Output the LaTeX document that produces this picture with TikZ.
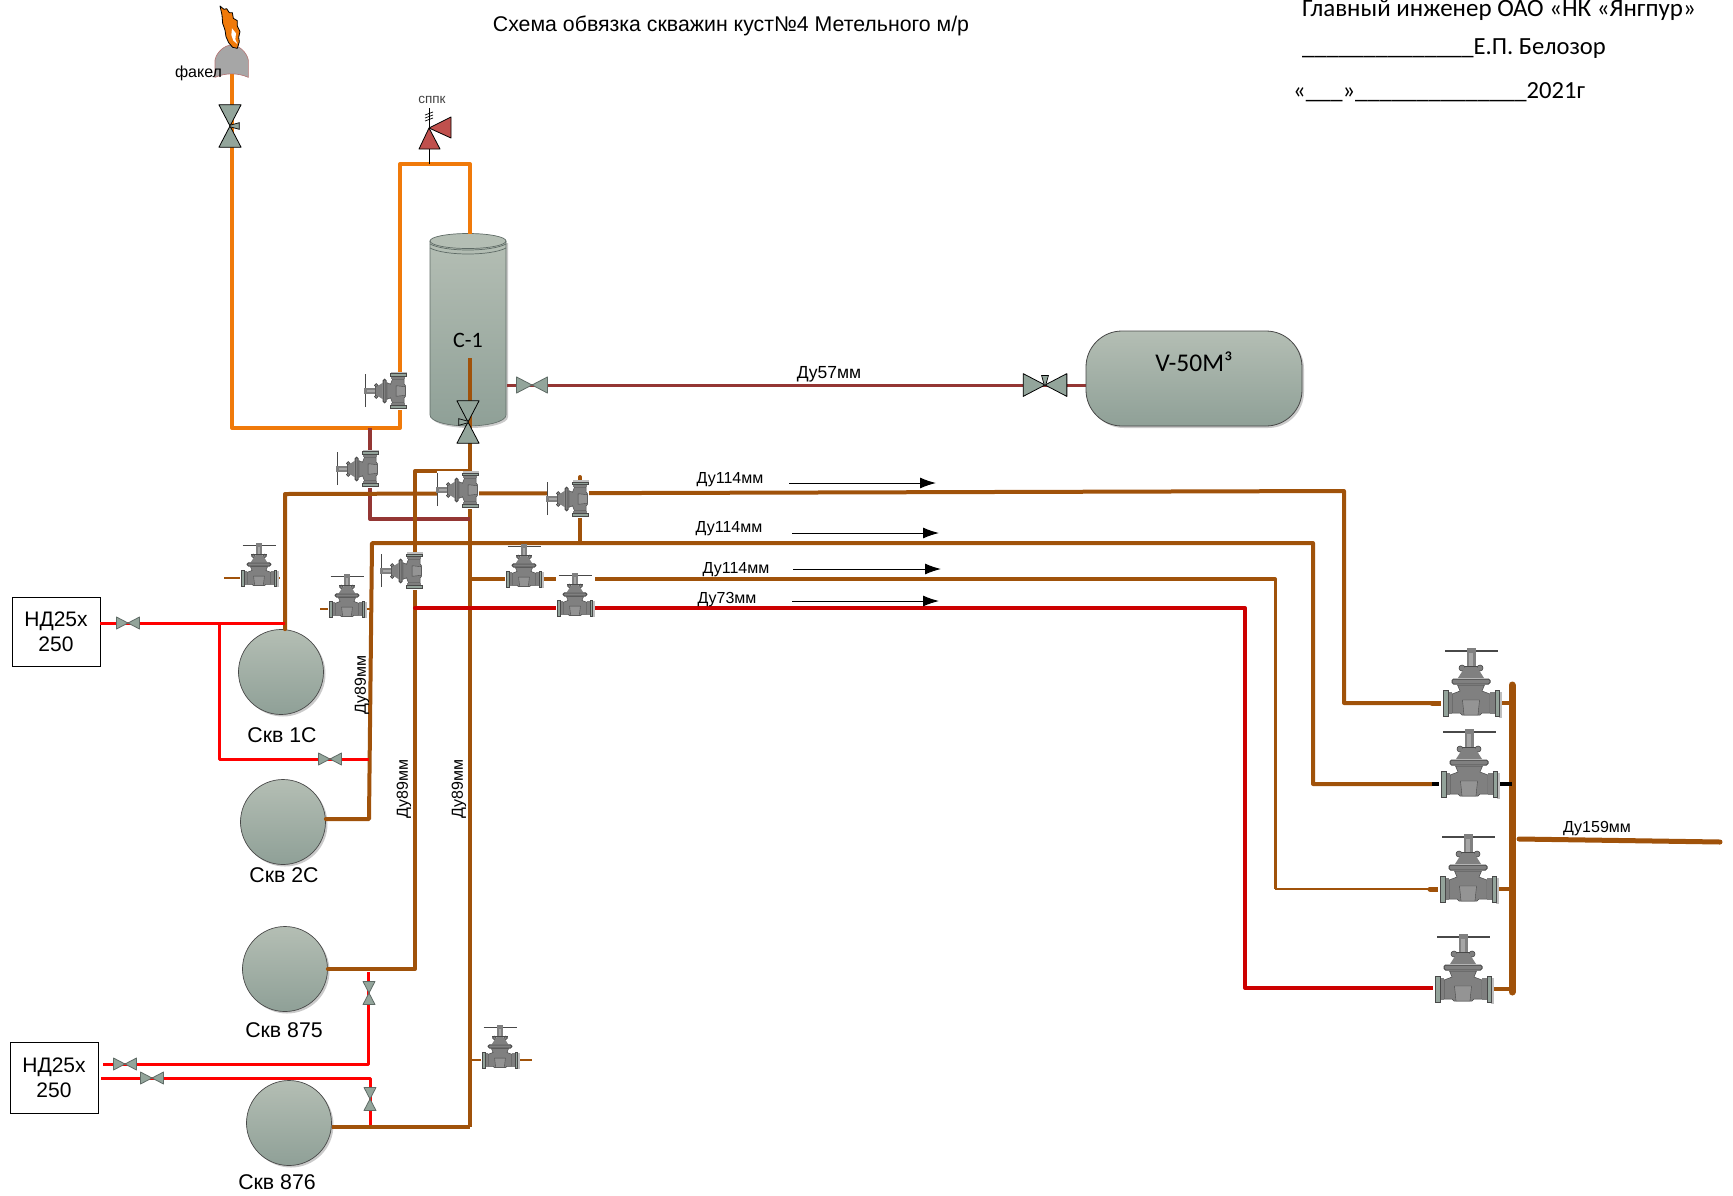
\documentclass[tikz,border=0pt]{standalone}
\usepackage{fontspec}
\setmainfont{Liberation Sans}
\newfontfamily\calibri{Carlito}
\usetikzlibrary{arrows.meta,shadows}

\definecolor{pipeBrown}{HTML}{A0520A}
\definecolor{pipeOrange}{HTML}{F07A0A}
\definecolor{pipeRed}{HTML}{FF0000}
\definecolor{pipeDeep}{HTML}{CC0000}
\definecolor{pipeOil}{HTML}{943634}
\definecolor{reliefRed}{HTML}{C0504D}
\definecolor{vesselTop}{HTML}{B4BEB4}
\definecolor{vesselLow}{HTML}{8FA097}
\definecolor{bowFill}{HTML}{93A59B}
\definecolor{bowEdge}{HTML}{5F6B66}
\definecolor{bodyGrey}{HTML}{808080}
\definecolor{darkGrey}{HTML}{484848}
\definecolor{flangeGreen}{HTML}{93A39A}

\tikzset{
	brownline/.style={pipeBrown,line width=4pt,line join=round,line cap=round},
	thinbrown/.style={pipeBrown,line width=2pt,line join=round},
	orangeline/.style={pipeOrange,line width=4pt,line join=round},
	redline/.style={pipeRed,line width=3pt,line join=round},
	deepline/.style={pipeDeep,line width=4pt,line join=round},
	oilline/.style={pipeOil,line width=3pt,line join=round},
	flowarrow/.style={black,line width=1pt,-{Latex[length=16pt,width=11pt]}},
	vesselshade/.style={top color=vesselTop,bottom color=vesselLow,draw=darkGrey,line width=.7pt,
		drop shadow={shadow xshift=2pt,shadow yshift=-2pt,fill=black!35,opacity=.6}},
	wellnode/.style={circle,vesselshade,minimum size=85pt,inner sep=0pt},
	boxnode/.style={draw=black,line width=.8pt,fill=white,align=center,inner sep=0pt,font=\fontsize{21}{25}\selectfont},
	welltext/.style={font=\fontsize{21.3}{23}\selectfont},
	dutext/.style={font=\fontsize{16}{18}\selectfont},
	signtext/.style={anchor=west,inner sep=0pt,font=\calibri\fontsize{24.6}{26}\selectfont},
	gatevalve/.pic={
		\fill[white] (-30,-53) rectangle (31,15);
		\fill[black!25] (28,-11) rectangle (31,15);
		\draw[darkGrey,line width=1.1pt] (-26,-52) -- (27,-52);
		\fill[bodyGrey] (-4.5,-55) rectangle (4.5,-35);
		\fill[black!35] (-2,-50) rectangle (2,-36);
		\draw[darkGrey,line width=.7pt] (-12,-37) -- (12,-37);
		\draw[darkGrey,fill=bodyGrey,line width=.6pt] (-9,-35) circle (3pt);
		\draw[darkGrey,fill=bodyGrey,line width=.6pt] (9,-35) circle (3pt);
		\fill[bodyGrey] (-6,-36) -- (6,-36) -- (13,-25) -- (-13,-25) -- cycle;
		\draw[darkGrey,line width=1pt,fill=bodyGrey,rounded corners=1.5pt] (-19,-24) rectangle (19,-19);
		\draw[darkGrey,fill=bodyGrey,line width=.5pt] (-13.5,-18) -- (13.5,-18) -- (11,-12) -- (19,-9) -- (19,10) -- (11,10) -- (9,12) -- (-9,12) -- (-11,10) -- (-19,10) -- (-19,-9) -- (-11,-12) -- cycle;
		\draw[darkGrey,line width=.4pt,fill=black!42] (-8.5,-3) -- (8.5,-3) -- (7,12) -- (-7,12) -- cycle;
		\fill[darkGrey!70] (-23,-11) rectangle (-19,11);
		\fill[darkGrey!70] (19,-11) rectangle (24,11);
		\draw[darkGrey,fill=flangeGreen,line width=.3pt] (-28,-13) rectangle (-23,13);
		\draw[darkGrey,fill=flangeGreen,line width=.3pt] (24,-13) rectangle (28,13);
	},
	bowvalve/.pic={
		\draw[draw=#1,fill=bowFill,line width=.8pt,line join=round] (-11.5,-6) -- (0,0) -- (-11.5,6) -- cycle;
		\draw[draw=#1,fill=bowFill,line width=.8pt,line join=round] (11.5,-6) -- (0,0) -- (11.5,6) -- cycle;
	},
	leverpic/.pic={
		\draw[black,fill=bowFill,line width=.7pt] (-.4,0) -- (-1.8,-5) -- (1.8,-5) -- (.4,0) -- cycle;
	}
}

\begin{document}
\begin{tikzpicture}[x=1pt,y=-1pt]

	\useasboundingbox (0,0) rectangle (1733,1195);

	\coordinate (flareFoot) at (232,73);
	\coordinate (flareLow) at (232,428);
	\coordinate (ventLow) at (400,428);
	\coordinate (ventTop) at (400,164);
	\coordinate (sepTop) at (470,234);
	\coordinate (sppkFoot) at (429,164);
	\coordinate (sppkTip) at (429,108);

	\coordinate (sepStub) at (470,358);
	\coordinate (sepValve) at (470,422);
	\coordinate (mainLow) at (470,1127);
	\coordinate (jumpTop) at (415,471);
	\coordinate (jumpLow) at (415,969);

	\coordinate (oilTop) at (370,428);
	\coordinate (oilLow) at (370,519);
	\coordinate (oilEnd) at (470,519);

	\coordinate (runA) at (285,494);
	\coordinate (runAEnd) at (1344,491);
	\coordinate (runALow) at (1344,703);
	\coordinate (runAStub) at (1432,703);
	\coordinate (runATip) at (1445,703);
	\coordinate (runB) at (369,819);
	\coordinate (runBTop) at (372,543);
	\coordinate (runBEnd) at (1313,543);
	\coordinate (runBLow) at (1313,784);
	\coordinate (runBStub) at (1432,784);
	\coordinate (runBTip) at (1442,784);
	\coordinate (tieTop) at (580,477);
	\coordinate (tieLow) at (580,543);
	\coordinate (runC) at (470,579);
	\coordinate (runCEnd) at (1275,579);
	\coordinate (runCLow) at (1275,889);
	\coordinate (runCStub) at (1430,889);
	\coordinate (runCTip) at (1442,889);
	\coordinate (runD) at (415,608);
	\coordinate (runDEnd) at (1245,608);
	\coordinate (runDLow) at (1245,988);
	\coordinate (runDStub) at (1433,988);

	\coordinate (headTop) at (1512,685);
	\coordinate (headLow) at (1512,992);
	\coordinate (exitA) at (1519,839);
	\coordinate (exitB) at (1720,842);
	\coordinate (gateR1out) at (1498,703);
	\coordinate (gateR2out) at (1498,784);
	\coordinate (gateR3out) at (1492,889);
	\coordinate (gateR4out) at (1490,989);

	\node[wellnode] (well1C) at (281,672) {};
	\node[wellnode] (well2C) at (283,822) {};
	\node[wellnode] (well875) at (285,969) {};
	\node[wellnode] (well876) at (289,1123) {};
	\node[boxnode,minimum width=88pt,minimum height=69pt] (boxTop) at (56,632) {НД25х\\250};
	\node[boxnode,minimum width=88pt,minimum height=71pt] (boxLow) at (54,1078) {НД25х\\250};

	\coordinate (redTopEnd) at (285,623);
	\coordinate (redSplit) at (219,623);
	\coordinate (redSplitLow) at (219,759);
	\coordinate (redSplitEnd) at (369,759);
	\coordinate (redA) at (103,1064);
	\coordinate (redABend) at (368,1064);
	\coordinate (redAEnd) at (368,972);
	\coordinate (redB) at (101,1078);
	\coordinate (redBBend) at (370,1078);
	\coordinate (redBEnd) at (370,1125);

	\coordinate (stubF0a) at (224,578);
	\coordinate (stubF0b) at (280,578);
	\coordinate (stubF1a) at (320,609);
	\coordinate (stubF1b) at (371,609);
	\coordinate (stubF4) at (532,1060);
	\coordinate (stubF4b) at (470,1060);
	\coordinate (oilRight) at (507,385);
	\coordinate (oilTank) at (1086,385);

	\path[vesselshade,draw=none] (430,241) -- (430,415) .. controls (430,422) and (450,426) .. (468,426) .. controls (486,426) and (506,422) .. (506,415) -- (506,241) -- cycle;
	\draw[bowEdge,line width=.6pt] (430,241) -- (430,415) .. controls (430,422) and (450,426) .. (468,426) .. controls (486,426) and (506,422) .. (506,415) -- (506,241);
	\draw[bowEdge,line width=.7pt,fill=vesselTop] (468,241) ellipse (38pt and 7.5pt);
	\draw[bowEdge,line width=.7pt] (430,244) .. controls (445,252) and (491,252) .. (506,244);
	\draw[bowEdge,line width=.7pt] (430,248) .. controls (445,256) and (491,256) .. (506,248);

	\draw[orangeline] (flareFoot) -- (flareLow) -- (ventLow) -- (ventTop) -- (ventTop -| sepTop) -- (sepTop);
	\draw[black,line width=1pt] (sppkFoot) -- (sppkTip);
	\draw[brownline,line cap=butt] (sepStub) -- (mainLow);
	\draw[oilline,line width=4pt] (oilTop) -- (oilLow) -- (oilEnd);
	\draw[brownline] (jumpTop -| sepStub) -- (jumpTop) -- (jumpLow) -- (well875.east);
	\draw[brownline] (well1C.north -| runA) -- (runA) -- (runAEnd) -- (runALow) -- (runAStub);
	\draw[brownline,line width=5pt] (runAStub) -- (runATip);
	\draw[brownline] (well2C.east |- runB) -- (runB) -- (runBTop) -- (runBEnd) -- (runBLow) -- (runBStub);
	\draw[black,line width=4pt] (runBStub) -- (runBTip);
	\draw[brownline] (tieTop) -- (tieLow);
	\draw[brownline] (runC) -- (runCEnd);
	\draw[thinbrown,line width=3pt] (runCEnd) -- (runCLow);
	\draw[thinbrown] (runCLow) -- (runCStub);
	\draw[brownline,line width=5pt] (runCStub) -- (runCTip);
	\draw[deepline,line cap=round] (runD) -- (runDEnd) -- (runDLow) -- (runDStub);
	\draw[brownline,line cap=butt] (well876.east |- mainLow) -- (mainLow);
	\draw[thinbrown,line width=2.5pt] (stubF0a) -- (stubF0b);
	\draw[thinbrown,line width=2.5pt] (stubF1a) -- (stubF1b);
	\draw[thinbrown,line width=2.5pt] (stubF4b) -- (stubF4);

	\draw[redline] (boxTop.east |- redTopEnd) -- (redTopEnd);
	\draw[redline] (redSplit) -- (redSplitLow) -- (redSplitEnd);
	\draw[redline] (redA) -- (redABend) -- (redAEnd);
	\draw[redline] (redB) -- (redBBend) -- (redBEnd);
	\draw[oilline] (oilRight) -- (oilTank);

	\node[inner sep=0pt] (sepLabel) at (468,340) {\calibri\fontsize{22}{24}\selectfont С-1};
	\draw[brownline,line cap=butt] (sepStub) -- (sepValve);

	\path[draw=darkGrey,line width=.8pt,rounded corners=36pt,top color=vesselTop,bottom color=vesselLow,drop shadow={shadow xshift=2pt,shadow yshift=-2pt,fill=black!35,opacity=.6}] (1086,331) rectangle (1302,426);
	\node (tankText) at (1194,362) {\calibri\fontsize{25.5}{27}\selectfont V-50М³};

	\draw[brownline,line width=7pt] (headTop) -- (headLow);
	\draw[brownline,line width=5pt] (exitA) -- (exitB);
	\draw[brownline,line cap=butt] (gateR1out) -- (headTop |- gateR1out);
	\draw[black,line width=4pt] (gateR2out) -- (headTop |- gateR2out);
	\draw[brownline,line cap=butt] (gateR3out) -- (headTop |- gateR3out);
	\draw[brownline,line cap=butt] (gateR4out) -- (headTop |- gateR4out);

	\pic[rotate=90,scale=.62] (gateOrange) at (398,391) {gatevalve};
	\pic[rotate=90,scale=.62] (gateOil) at (370,469) {gatevalve};
	\pic[rotate=90,scale=.62] (gateMid) at (470,490) {gatevalve};
	\pic[rotate=90,scale=.62] (gateRun) at (580,499) {gatevalve};
	\pic[rotate=90,scale=.62] (gateJump) at (414,571) {gatevalve};

	\pic[scale=.63] (gateF0) at (259,578) {gatevalve};
	\pic[scale=.63] (gateF1) at (347,609) {gatevalve};
	\pic[scale=.63] (gateF2) at (524,579) {gatevalve};
	\pic[scale=.63] (gateF3) at (575,608) {gatevalve};
	\pic[scale=.63] (gateF4) at (500,1060) {gatevalve};

	\pic (gateR1) at (1471,703) {gatevalve};
	\pic (gateR2) at (1469,784) {gatevalve};
	\pic (gateR3) at (1468,889) {gatevalve};
	\pic (gateR4) at (1463,989) {gatevalve};

	\pic (bowTop) at (128,623) {bowvalve=bowEdge};
	\pic (bowSplit) at (330,759) {bowvalve=bowEdge};
	\pic (bowA) at (125,1064) {bowvalve=bowEdge};
	\pic (bowB) at (152,1078) {bowvalve=bowEdge};
	\pic[rotate=90] (bowAUp) at (369,993) {bowvalve=bowEdge};
	\pic[rotate=90] (bowBUp) at (370,1099) {bowvalve=bowEdge};
	\pic[scale=1.35] (bowDu) at (532,385) {bowvalve=bowEdge};
	\pic[rotate=90,scale=1.85] (bowFlare) at (230,126) {bowvalve=black};
	\pic[rotate=-90,scale=1.85] (leverFlare) at (230,126) {leverpic};
	\pic[rotate=90,scale=1.85] (bowSep) at (468,422) {bowvalve=black};
	\pic[rotate=90,scale=1.85] (leverSep) at (468,422) {leverpic};
	\pic[scale=1.9] (bowTank) at (1045,385) {bowvalve=black};
	\pic[scale=1.9] (leverTank) at (1045,385) {leverpic};

	\draw[draw=black,fill=reliefRed,line width=.8pt,line join=round] (429,128) -- (440,149) -- (419,149) -- cycle;
	\draw[draw=black,fill=reliefRed,line width=.8pt,line join=round] (429,128) -- (451,117) -- (451,138) -- cycle;
	\draw[black,line width=.7pt] (425,115) -- (433,112);
	\draw[black,line width=.7pt] (425,118) -- (433,115);
	\draw[black,line width=.7pt] (425,121) -- (433,118);

	\begin{scope}[xshift=150pt,scale=1/3]
		\draw[draw=pipeOil!70,fill=black!35,line width=.6pt] (195,180) .. controls (200,155) and (225,135) .. (245,135) .. controls (265,135) and (290,155) .. (295,180) -- (295,232) .. controls (262,218) and (228,218) .. (195,232) -- cycle;
		\draw[black,fill=pipeOrange,line width=.8pt,line join=round] (210,18) -- (222,28) -- (230,26) -- (238,38) -- (247,38) -- (250,55) -- (262,62) -- (262,78) -- (270,95) -- (266,112) -- (268,125) -- (262,145) -- (248,142) -- (236,128) -- (228,110) -- (225,90) -- (218,70) -- (216,45) -- cycle;
		\fill[white] (246,85) -- (258,100) -- (256,118) -- (262,132) -- (250,122) -- (244,105) -- cycle;
	\end{scope}

	\node[welltext] (label1C) at (282,735) {Скв 1С};
	\node[welltext] (label2C) at (284,875) {Скв 2С};
	\node[welltext] (label875) at (284,1030) {Скв 875};
	\node[welltext] (label876) at (277,1182) {Скв 876};

	\node[font=\fontsize{16}{18}\selectfont] (flareText) at (198.5,73) {факел};
	\node[font=\fontsize{13.5}{15}\selectfont,black!75] (sppkText) at (432,100) {сппк};

	\node[font=\fontsize{17.5}{19}\selectfont] (du57) at (829,374) {Ду57мм};
	\node[dutext] (du114a) at (730,480) {Ду114мм};
	\node[dutext] (du114b) at (729,529) {Ду114мм};
	\node[dutext] (du114c) at (736,570) {Ду114мм};
	\node[dutext] (du73) at (727,600) {Ду73мм};
	\node[dutext] (du159) at (1597,829) {Ду159мм};
	\node[dutext,rotate=90] (du89a) at (362,685) {Ду89мм};
	\node[dutext,rotate=90] (du89b) at (404,789) {Ду89мм};
	\node[dutext,rotate=90] (du89c) at (459,789) {Ду89мм};

	\coordinate (arrowAa) at (789,483);
	\coordinate (arrowAb) at (936,483);
	\coordinate (arrowBa) at (792,533);
	\coordinate (arrowBb) at (939,533);
	\coordinate (arrowCa) at (793,569);
	\coordinate (arrowCb) at (941,569);
	\coordinate (arrowDa) at (792,601);
	\coordinate (arrowDb) at (939,601);
	\draw[flowarrow] (arrowAa) -- (arrowAb);
	\draw[flowarrow] (arrowBa) -- (arrowBb);
	\draw[flowarrow] (arrowCa) -- (arrowCb);
	\draw[flowarrow] (arrowDa) -- (arrowDb);

	\node[font=\fontsize{21.3}{24}\selectfont] (titleText) at (731,26) {Схема обвязка скважин куст№4 Метельного м/р};
	\node[signtext,font=\calibri\fontsize{25}{27}\selectfont] (signA) at (1302,10) {Главный инженер ОАО «НК «Янгпур»};
	\node[signtext] (signB) at (1302,49) {\_\_\_\_\_\_\_\_\_\_\_\_\_\_Е.П. Белозор};
	\node[signtext] (signC) at (1293,92) {«\_\_\_»\_\_\_\_\_\_\_\_\_\_\_\_\_\_2021г};

\end{tikzpicture}
\end{document}
